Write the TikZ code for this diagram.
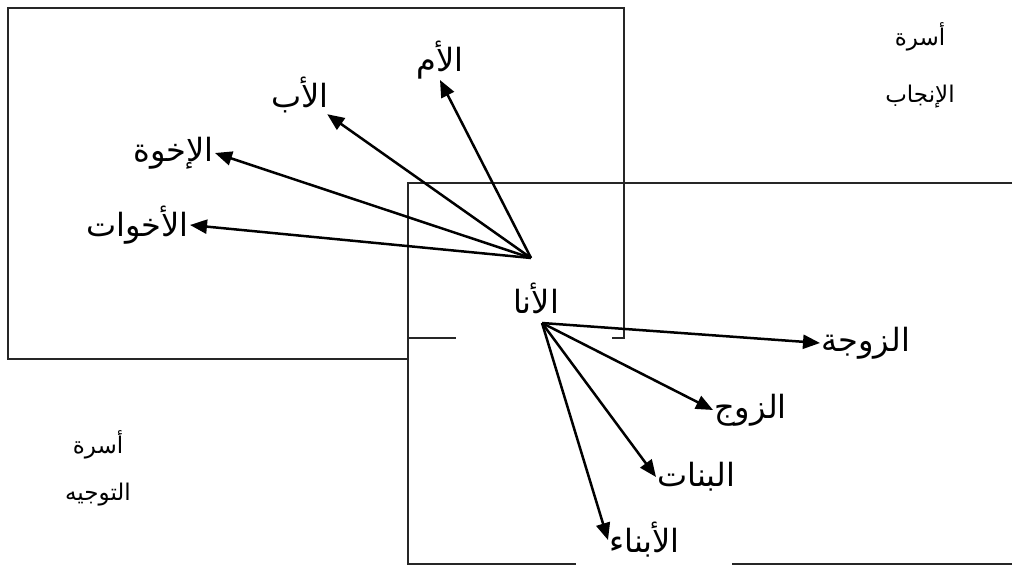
\documentclass[tikz,border=0pt]{standalone}
\usepackage{fontspec}
\newfontfamily\arabicfont[Script=Arabic]{DejaVu Sans}
\TeXXeTstate=1
\usetikzlibrary{arrows.meta}
\begin{document}
\begin{tikzpicture}[x=1pt,y=-1pt,
  lbl/.style={font=\arabicfont\fontsize{32}{36}\selectfont, inner sep=1pt},
  captxt/.style={font=\arabicfont\fontsize{23}{27}\selectfont, inner sep=1pt},
  frame/.style={line width=1.3pt, draw=black!85},
  rel/.style={line width=2.5pt, -{Triangle[length=17pt,width=14pt]}}]
\useasboundingbox (0,0) rectangle (1016,567);
% frames
\draw[frame] (408,359) -- (8,359) -- (8,8) -- (624,8) -- (624,338) -- (612,338);
\draw[frame] (1012,183) -- (408,183) -- (408,564) -- (576,564);
\draw[frame] (732,564) -- (1012,564);
\draw[frame] (408,338) -- (456,338);
% captions
\node[captxt] (c1a) at (920,37) {\beginR أسرة\endR};
\node[captxt] (c1b) at (920,97) {\beginR الإنجاب\endR};
\node[captxt] (c2a) at (98,445) {\beginR أسرة\endR};
\node[captxt] (c2b) at (98,495) {\beginR التوجيه\endR};
% labels
\coordinate (hubup) at (531,258);
\coordinate (hubdown) at (542,323);
\node[lbl] (ego) at (536,298) {\beginR الأنا\endR};
\node[lbl, anchor=south] (mother) at (440,80) {\beginR الأم\endR};
\node[lbl] (father) at (300,95) {\beginR الأب\endR};
\node[lbl, anchor=east] (brothers) at (215,153) {\beginR الإخوة\endR};
\node[lbl, anchor=east] (sisters) at (190,225) {\beginR الأخوات\endR};
\node[lbl, anchor=west] (wife) at (820,343) {\beginR الزوجة\endR};
\node[lbl, anchor=west] (husband) at (713,410) {\beginR الزوج\endR};
\node[lbl, anchor=west] (daughters) at (656,477) {\beginR البنات\endR};
\node[lbl, anchor=west] (sons) at (608,540) {\beginR الأبناء\endR};
% arrows
\draw[rel] (hubup) -- (mother.south);
\draw[rel] (hubup) -- (father);
\draw[rel] (hubup) -- (brothers.east);
\draw[rel] (hubup) -- (sisters.east);
\draw[rel] (hubdown) -- (wife.west);
\draw[rel] (hubdown) -- (husband.west);
\draw[rel] (hubdown) -- (daughters.west);
\draw[rel] (hubdown) -- (sons.west);
\end{tikzpicture}
\end{document}
